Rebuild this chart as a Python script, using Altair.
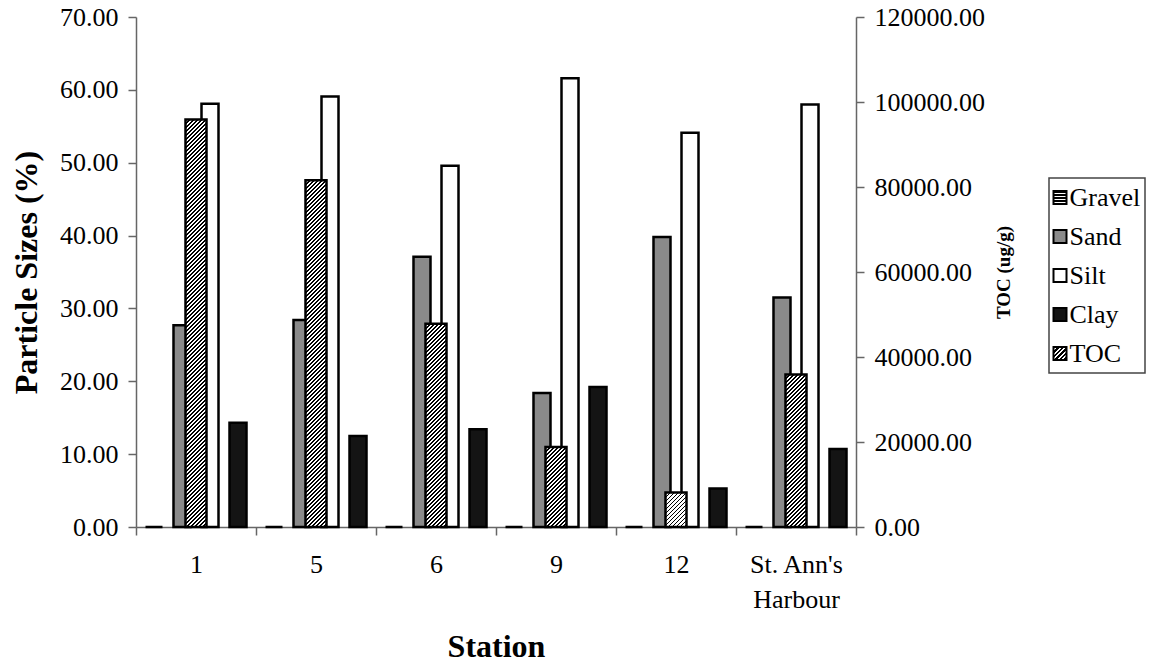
import altair as alt
import pandas as pd

# Sediment grain-size fractions (%) and total organic carbon (ug/g) per station
stations = ["1", "5", "6", "9", "12", "St. Ann's Harbour"]
series = ["Gravel", "Sand", "Silt", "Clay"]
gravel = [0.0, 0.0, 0.0, 0.0, 0.0, 0.0]
sand = [27.7, 28.4, 37.1, 18.4, 39.8, 31.5]
silt = [58.1, 59.1, 49.6, 61.6, 54.1, 58.0]
clay = [14.3, 12.5, 13.4, 19.2, 5.3, 10.7]
toc = [95900, 81600, 47800, 18800, 8100, 35900]

legend_names = ["Gravel", "Sand", "Silt", "Clay", "TOC"]

PLOT_W, PLOT_H = 720, 510
PCT_MAX, TOC_MAX = 70, 120000
TOC_BAND = 0.175
FONT = "Liberation Serif"

grain = pd.DataFrame(
    [
        {"station": st, "series": name, "value": vals[i]}
        for name, vals in zip(series, [gravel, sand, silt, clay])
        for i, st in enumerate(stations)
    ]
)
toc_df = pd.DataFrame({"station": stations, "toc": toc})


def stops_from(edges, total, colors):
    """Hard-edged gradient stops for alternating bands given in pixel units."""
    out = []
    for (a, b), c in zip(edges, colors):
        out.append(alt.GradientStop(color=c, offset=min(a / total, 1.0)))
        out.append(alt.GradientStop(color=c, offset=min(b / total, 1.0)))
    return out


def diagonal_hatch(w, h, period, ink):
    """'/' hatching for a w x h box, built as a bounding-box linear gradient."""
    slope = h / w
    norm = w * (1 + slope * slope)
    span = w + h
    edges, colors = [], []
    k = 0
    while k * period < span:
        s0 = k * period
        s1 = s0 + ink * period
        edges += [(s0, s1), (s1, s0 + period)]
        colors += ["black", "white"]
        k += 1
    return alt.LinearGradient(
        gradient="linear", stops=stops_from(edges, norm, colors),
        x1=0, y1=0, x2=1, y2=slope,
    )


def horizontal_hatch(h, period, ink):
    edges, colors = [], []
    k = 0
    while k * period < h:
        s0 = k * period
        s1 = s0 + ink * period
        edges += [(s0, s1), (s1, s0 + period)]
        colors += ["black", "white"]
        k += 1
    return alt.LinearGradient(
        gradient="linear", stops=stops_from(edges, h, colors),
        x1=0, y1=0, x2=0, y2=1,
    )


x_enc = alt.X(
    "station:N",
    sort=stations,
    scale=alt.Scale(paddingInner=0, paddingOuter=0),
    axis=alt.Axis(
        title="Station",
        labelAngle=0,
        tickBand="extent",
        labelOverlap=False,
        labelLimit=300,
        labelPadding=16,
        labelLineHeight=35,
        titlePadding=19,
        labelExpr='datum.label == "St. Ann\'s Harbour" ? ["St. Ann\'s", "Harbour"] : datum.label',
    ),
)

fills = {"Gravel": "black", "Sand": "#8a8a8a", "Silt": "white", "Clay": "#141414"}

grain_bars = (
    alt.Chart(grain)
    .mark_bar(stroke="black", strokeWidth=2.5)
    .encode(
        x=x_enc,
        xOffset=alt.XOffset(
            "series:N", sort=series,
            scale=alt.Scale(paddingInner=0.393, paddingOuter=0.339),
        ),
        y=alt.Y(
            "value:Q",
            scale=alt.Scale(domain=[0, PCT_MAX], nice=False),
            axis=alt.Axis(
                title="Particle Sizes (%)",
                values=list(range(0, PCT_MAX + 1, 10)),
                format=".2f",
                titlePadding=16,
            ),
        ),
        fill=alt.Fill(
            "series:N", sort=series,
            scale=alt.Scale(domain=series, range=[fills[s] for s in series]),
            legend=None,
        ),
    )
)

toc_y = alt.Y(
    "toc:Q",
    scale=alt.Scale(domain=[0, TOC_MAX], nice=False),
    axis=alt.Axis(
        title="TOC (ug/g)",
        orient="right",
        values=list(range(0, TOC_MAX + 1, 20000)),
        format=".2f",
        titleFontSize=19,
        titleAngle=270,
        titleBaseline="top",
        titlePadding=10,
    ),
)

toc_layers = []
for st, v in zip(stations, toc):
    h = v / TOC_MAX * PLOT_H
    toc_layers.append(
        alt.Chart(toc_df)
        .transform_filter(alt.FieldEqualPredicate(field="station", equal=st))
        .mark_bar(
            width=alt.RelativeBandSize(band=TOC_BAND),
            stroke="black",
            strokeWidth=2.5,
            fill=diagonal_hatch(PLOT_W / len(stations) * TOC_BAND, h, 4, 0.45),
        )
        .encode(x=x_enc, y=toc_y)
    )

main = (
    alt.layer(grain_bars, alt.layer(*toc_layers))
    .resolve_scale(y="independent")
    .properties(width=PLOT_W, height=PLOT_H)
)

# Legend panel drawn as its own small view; the entry names come from an
# inner axis so they share the serif face of the other axis labels
legend_fills = {
    "Gravel": horizontal_hatch(13, 3, 0.55),
    "Sand": "#8a8a8a",
    "Silt": "white",
    "Clay": "#141414",
    "TOC": diagonal_hatch(13, 13, 4.5, 0.5),
}
legend_df = pd.DataFrame({"series": legend_names})
leg_y = alt.Y(
    "series:N", sort=legend_names,
    scale=alt.Scale(paddingInner=0, paddingOuter=0),
    axis=alt.Axis(
        title=None, orient="left", offset=-20, domain=False, ticks=False,
        labelAlign="left", labelBaseline="middle", labelPadding=0,
        labelFontSize=26, labelLimit=200,
    ),
)
leg_layers = []
for name in legend_names:
    leg_layers.append(
        alt.Chart(legend_df)
        .transform_filter(alt.FieldEqualPredicate(field="series", equal=name))
        .mark_square(size=169, stroke="black", strokeWidth=2, opacity=1,
                     fill=legend_fills[name])
        .encode(x=alt.value(11), y=leg_y)
    )
legend = alt.layer(*leg_layers).properties(
    width=96, height=195,
    view=alt.ViewBackground(stroke="#444", strokeWidth=1.5),
)

spacer = (
    alt.Chart(pd.DataFrame({"series": ["Gravel"]}))
    .mark_point(opacity=0)
    .encode(x=alt.value(0), y=alt.value(0))
    .properties(width=96, height=160)
)

chart = (
    alt.hconcat(main, alt.vconcat(spacer, legend, spacing=0), spacing=32)
    .properties(padding={"left": 10, "top": 4, "right": 5, "bottom": 2}, background="white")
    .configure(font=FONT)
    .configure_view(stroke=None)
    .configure_axis(
        grid=False,
        domainColor="#666",
        domainWidth=1.5,
        tickColor="#666",
        tickWidth=1.5,
        tickSize=8,
        labelFont=FONT,
        labelFontSize=26,
        labelColor="black",
        labelPadding=10,
        titleFont=FONT,
        titleFontSize=32,
        titleFontWeight="bold",
        titleColor="black",
    )
)

chart.save("out.html", embed_options={"renderer": "svg", "actions": False})
